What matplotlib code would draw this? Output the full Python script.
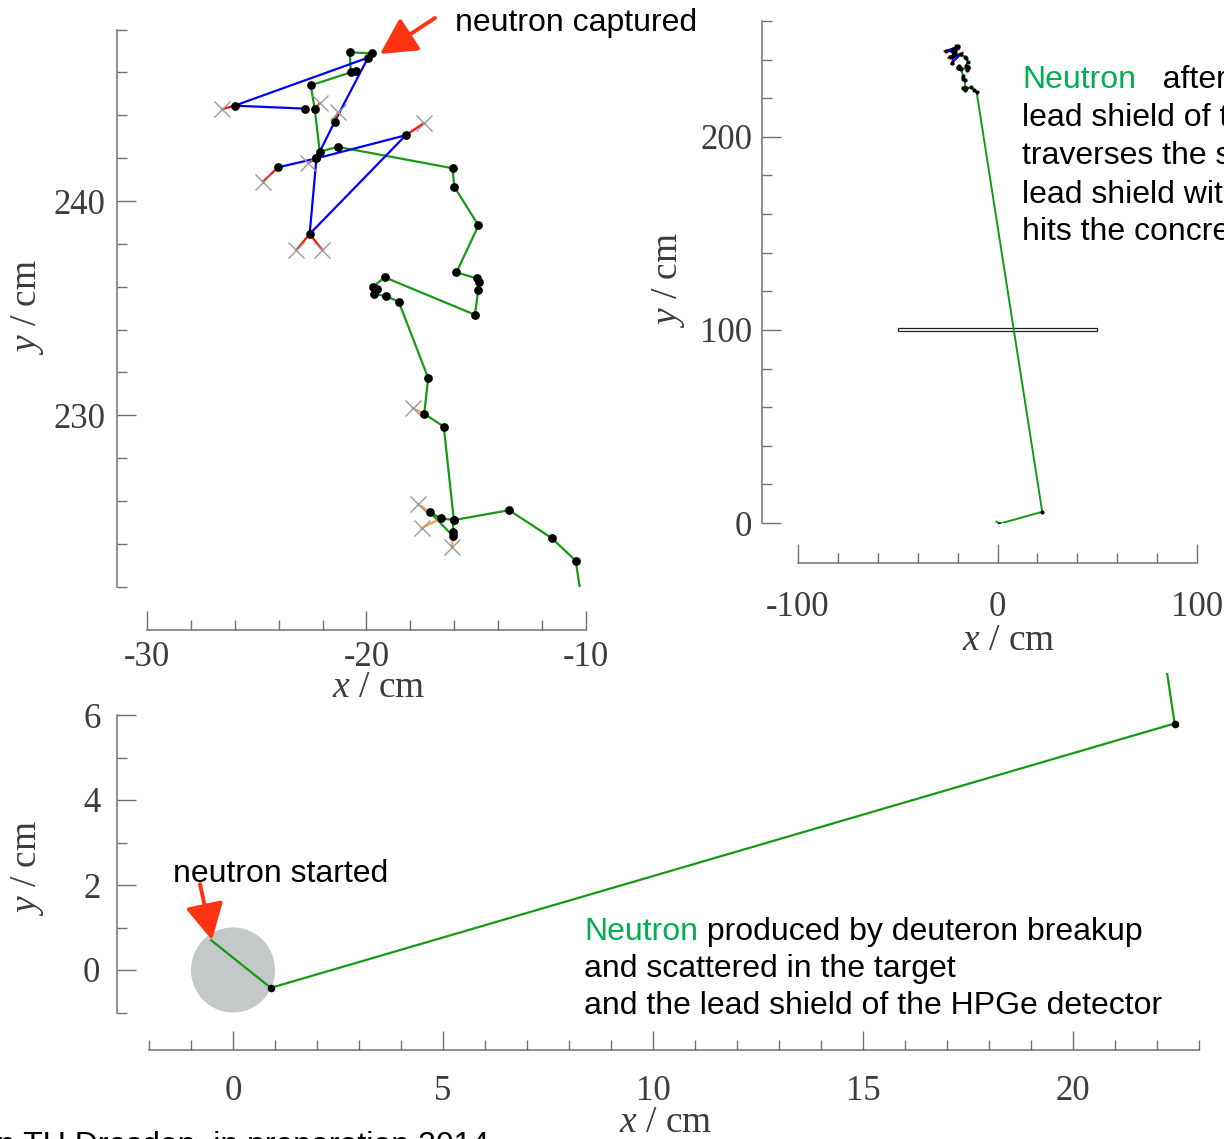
import numpy as np
import matplotlib.pyplot as plt
from matplotlib.patches import Circle, Rectangle
from matplotlib.ticker import MultipleLocator, FixedLocator

plt.rcParams['axes.unicode_minus'] = False
plt.rcParams['mathtext.fontset'] = 'custom'
plt.rcParams['mathtext.it'] = 'Liberation Serif:italic'
plt.rcParams['mathtext.rm'] = 'Liberation Serif'

# neutron path (cm): start in the target ... capture in the lead shield
nx = [-0.52, 0.90, 22.42, -10.47, -11.55, -13.50, -16.02, -16.08, -16.06, -17.11, -16.61, -16.02,
      -16.48, -17.37, -17.19, -18.53, -19.13, -19.67, -19.54, -19.70, -19.17, -15.06, -14.91,
      -14.87, -14.98, -15.90, -14.90, -16.00, -16.08, -21.32, -22.13, -22.36, -22.54, -20.49,
      -20.72, -20.76, -19.77, -19.93]
ny = [0.70, -0.42, 5.80, 223.21, 224.26, 225.57, 225.11, 224.57, 224.37, 225.47, 225.19, 225.11,
      229.47, 230.07, 231.74, 235.30, 235.57, 235.66, 235.88, 236.00, 236.44, 234.69, 235.83,
      236.23, 236.39, 236.67, 238.86, 240.67, 241.53, 242.53, 242.30, 244.31, 245.40, 246.08,
      246.03, 246.94, 246.89, 246.69]

# capture gammas
gamma_x = [[-19.93, -26.01, -22.78],
           [-19.93, -21.45, -22.28, -24.03],
           [-22.28, -18.21, -22.59, -22.28]]
gamma_y = [[246.69, 244.45, 244.31],
           [246.69, 243.70, 241.99, 241.57],
           [241.99, 243.07, 238.46, 241.99]]

# electrons: start -> end
e_x0 = [-26.01, -22.36, -21.45, -22.28, -24.03, -18.21, -22.59, -22.59]
e_y0 = [244.45, 244.31, 243.70, 241.99, 241.57, 243.07, 238.46, 238.46]
e_x1 = [-26.57, -22.13, -21.30, -22.66, -24.72, -17.39, -23.19, -22.01]
e_y1 = [244.29, 244.56, 244.14, 241.76, 240.90, 243.63, 237.71, 237.71]

# recoil nuclei: start -> end
r_x0 = [-17.37, -16.06, -17.11, -16.61]
r_y0 = [230.07, 224.37, 225.47, 225.19]
r_x1 = [-17.90, -16.10, -17.65, -17.49]
r_y1 = [230.33, 223.87, 225.86, 224.73]

GREEN = '#149a14'
SPINE = '#707070'
LABEL = '#3c3c3c'
ARROW = '#ff3311'
TXT_GREEN = '#00b050'
SANS = ['Liberation Sans', 'DejaVu Sans']
SERIF = 'Liberation Serif'

W, H = 1224, 1139
fig = plt.figure(figsize=(W / 100, H / 100), dpi=100)


def box(x0, x1, y0, y1):
    return [x0 / W, 1 - y1 / H, (x1 - x0) / W, (y1 - y0) / H]


def style(ax, left_off, bottom_off, xpad, ypad):
    ax.patch.set_visible(False)
    for s in ['top', 'right']:
        ax.spines[s].set_visible(False)
    ax.spines['left'].set_position(('outward', left_off))
    ax.spines['bottom'].set_position(('outward', bottom_off))
    for s in ['left', 'bottom']:
        ax.spines[s].set_color(SPINE)
        ax.spines[s].set_linewidth(1.1)
    ax.tick_params(which='both', direction='in', color=SPINE, width=1.0,
                   labelcolor=LABEL, labelsize=25)
    ax.tick_params(which='major', length=14)
    ax.tick_params(which='minor', length=7)
    ax.tick_params(axis='x', pad=xpad)
    ax.tick_params(axis='y', pad=ypad)
    for lab in ax.get_xticklabels() + ax.get_yticklabels():
        lab.set_fontfamily(SERIF)


def draw_tracks(ax, dot, cross, lw):
    ax.plot(nx, ny, color=GREEN, lw=lw, zorder=3)
    for gx, gy in zip(gamma_x, gamma_y):
        ax.plot(gx, gy, color='#0000ff', lw=lw, zorder=4)
    for x0, y0, x1, y1 in zip(e_x0, e_y0, e_x1, e_y1):
        ax.plot([x0, x1], [y0, y1], color='#ff1100', lw=lw, zorder=4)
    for x0, y0, x1, y1 in zip(r_x0, r_y0, r_x1, r_y1):
        ax.plot([x0, x1], [y0, y1], color='#ff9940', lw=lw, zorder=4)
    ax.plot(nx[1:], ny[1:], 'o', color='k', ms=dot, mew=0, zorder=6)
    vx = [x for g in gamma_x for x in g[1:]]
    vy = [y for g in gamma_y for y in g[1:]]
    ax.plot(vx, vy, 'o', color='k', ms=dot, mew=0, zorder=6)
    if cross > 0:
        ax.plot(e_x1 + r_x1, e_y1 + r_y1, 'x', color='#9a9a9a', ms=cross, mew=1.0, zorder=5)


def ax_labels(xpos, ypos):
    fig.text(xpos[0] / W, 1 - xpos[1] / H, '$x$ / cm', ha='center', va='center',
             fontsize=27, family=SERIF, color=LABEL)
    fig.text(ypos[0] / W, 1 - ypos[1] / H, '$y$ / cm', ha='center', va='center',
             fontsize=27, family=SERIF, color=LABEL, rotation=90)


# zoom on the capture region
ax1 = fig.add_axes(box(147, 586, 29.6, 586.7))
ax1.set_xlim(-30, -10)
ax1.set_ylim(222, 248)
ax1.xaxis.set_major_locator(MultipleLocator(10))
ax1.xaxis.set_minor_locator(MultipleLocator(2))
ax1.yaxis.set_major_locator(MultipleLocator(10))
ax1.yaxis.set_minor_locator(MultipleLocator(2))
draw_tracks(ax1, 6.3, 11, 1.6)
style(ax1, 21.6, 31, 8, 8.5)
ax_labels((379, 688), (28, 307))

# whole setup
ax2 = fig.add_axes(box(798, 1197, 21, 523))
ax2.set_xlim(-100, 100)
ax2.set_ylim(0, 260)
ax2.xaxis.set_major_locator(MultipleLocator(100))
ax2.xaxis.set_minor_locator(MultipleLocator(20))
ax2.yaxis.set_major_locator(MultipleLocator(100))
ax2.yaxis.set_minor_locator(MultipleLocator(20))
ax2.add_patch(Rectangle((-50, 99.7), 100, 1.2, fill=False, edgecolor='#222222', lw=0.9))
draw_tracks(ax2, 3, 0, 1.4)
style(ax2, 26, 29, 20, 7)
ax_labels((1009, 641), (669, 280))

# zoom on the target
ax3 = fig.add_axes(box(149, 1199, 672.5, 1012.5))
ax3.set_xlim(-2, 23)
ax3.set_ylim(-1, 7)
ax3.xaxis.set_major_locator(MultipleLocator(5))
ax3.xaxis.set_minor_locator(MultipleLocator(1))
ax3.yaxis.set_major_locator(FixedLocator([0, 2, 4, 6]))
ax3.yaxis.set_minor_locator(FixedLocator([-1, 1, 3, 5]))
ax3.spines['left'].set_bounds(-1, 6)
ax3.add_patch(Circle((0, 0), 1.0, color='#c5c8c8', lw=0, zorder=1))
draw_tracks(ax3, 5.5, 0, 1.6)
style(ax3, 23, 27, 18, 12)
ax_labels((666, 1123), (28, 868))


def arrow(tail, head):
    ax3.annotate('', xy=(head[0], H - head[1]), xytext=(tail[0], H - tail[1]),
                 xycoords='figure pixels', textcoords='figure pixels', annotation_clip=False,
                 arrowprops=dict(arrowstyle='-|>,head_length=0.85,head_width=0.45', color=ARROW,
                                 lw=2.8, shrinkA=0, shrinkB=0, mutation_scale=26))


def two_color(x, y, first, rest):
    t = fig.text(x / W, 1 - y / H, first, color=TXT_GREEN, fontsize=23, family=SANS, va='baseline')
    bb = t.get_window_extent(renderer=fig.canvas.get_renderer())
    fig.text(bb.x1 / W, 1 - y / H, rest, color='black', fontsize=23, family=SANS, va='baseline')


def line(x, y, s):
    fig.text(x / W, 1 - y / H, s, color='black', fontsize=23, family=SANS, va='baseline')


line(455, 31, 'neutron captured')
arrow((435, 18), (380, 54))
line(173, 882, 'neutron started')
arrow((200, 884), (212, 940))

two_color(1022, 88, 'Neutron', '   after leaving the')
line(1022, 126, 'lead shield of the HPGe detector')
line(1022, 164, 'traverses the second')
line(1022, 203, 'lead shield with')
line(1022, 240, 'hits the concrete')

two_color(584, 940, 'Neutron', ' produced by deuteron breakup')
line(584, 977, 'and scattered in the target')
line(584, 1014, 'and the lead shield of the HPGe detector')

line(-3, 1154, 'n TU Dresden, in preparation 2014')

fig.savefig('out.png', dpi=100)
